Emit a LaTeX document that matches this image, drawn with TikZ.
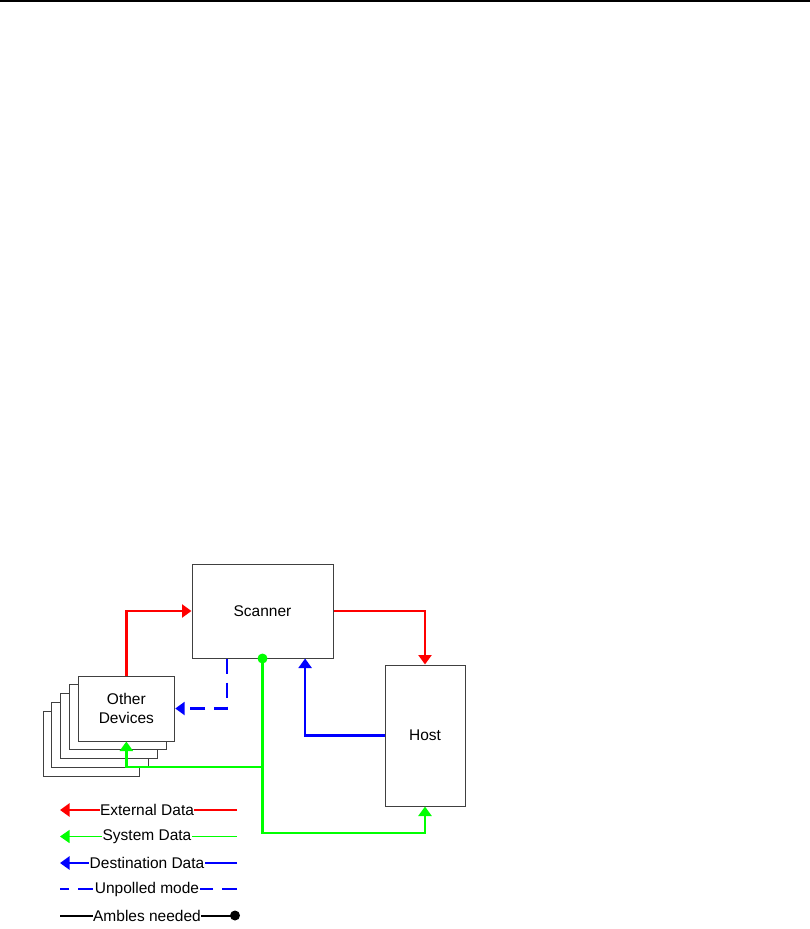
\documentclass[tikz,border=0pt]{standalone}
\usepackage{fontspec}
\setmainfont{Liberation Sans}
\usepackage{xcolor}
\usetikzlibrary{arrows.meta,positioning,calc}

\definecolor{extred}{RGB}{255,0,0}
\definecolor{sysgreen}{RGB}{0,255,0}
\definecolor{dstblue}{RGB}{0,0,255}
\definecolor{boxgray}{RGB}{64,64,64}

\tikzset{
	box/.style={draw=boxgray, line width=1pt, fill=white},
	tip/.style={-{Triangle[length=9.5pt,width=13pt]}},
	extdata/.style={tip, draw=extred, line width=2.3pt},
	sysdata/.style={tip, draw=sysgreen, line width=2.3pt},
	dstdata/.style={tip, draw=dstblue, line width=2.3pt},
	unpolled/.style={tip, draw=dstblue, line width=2.3pt, dash pattern=on 15pt off 9pt},
	legtext/.style={fill=white, inner sep=0.5pt}
}

\begin{document}
\begin{tikzpicture}[x=1pt, y=-1pt, font=\fontsize{15.5pt}{18.5pt}\selectfont]
		\useasboundingbox (0,0) rectangle (810,929);

		% header rule
		\draw[line width=1.5pt] (0,0.75) -- (810,0.75);

		% blocks
		\node[box, minimum width=141pt, minimum height=94pt] (scanner) at (262.5,611) {Scanner};
		\node[box, minimum width=80pt, minimum height=141pt] (host) at (425,735.5) {Host};

		\foreach \i in {4,3,2,1}
			\draw[box] (78-8.7*\i, 741+8.8*\i) rectangle ++(96.7,-65);
		\node[box, minimum width=96.7pt, minimum height=65pt, align=center] (devices) at (126.35,708.5) {Other\\Devices};

		% connectors
		\draw[extdata] (devices.north) |- (scanner.west);
		\draw[extdata] (scanner.east) -| (host.north);

		\draw[unpolled] ($(scanner.south west)!0.25!(scanner.south east)$) |- (devices.east);
		\draw[dstdata] (host.west) -| ($(scanner.south west)!0.8!(scanner.south east)$);

		\coordinate (sysjoin) at (262.5,767);
		\coordinate (syslow) at (262.5,833);
		\draw[sysdata] (scanner.south) -- (syslow) -| (host.south);
		\draw[sysdata] (sysjoin) -| (devices.south);
		\fill[sysgreen] (scanner.south) circle (5pt);

		% legend
		\foreach \row/\y in {ext/810, sys/836.5, dst/863, unp/889, amb/915.5} {
			\coordinate (\row-l) at (60,\y);
			\coordinate (\row-r) at (237,\y);
		}
		\draw[extdata] (ext-r) -- (ext-l);
		\draw[sysdata, line width=1.1pt] (sys-r) -- (sys-l);
		\draw[dstdata] (dst-r) -- (dst-l);
		\draw[dstblue, line width=2.3pt, dash pattern=on 15pt off 9pt] (unp-r) -- (unp-l);
		\draw[line width=2pt] (amb-l) -- (amb-r);
		\fill ($(amb-r)+(-2,0)$) circle (5pt);

		\node[legtext] (ext-t) at (147,810) {External Data};
		\node[legtext] (sys-t) at (147,836.5) {System Data};
		\node[legtext] (dst-t) at (147,863) {Destination Data};
		\node[legtext] (unp-t) at (147,889) {Unpolled mode};
		\node[legtext] (amb-t) at (147,915.5) {Ambles needed};
	\end{tikzpicture}
\end{document}
